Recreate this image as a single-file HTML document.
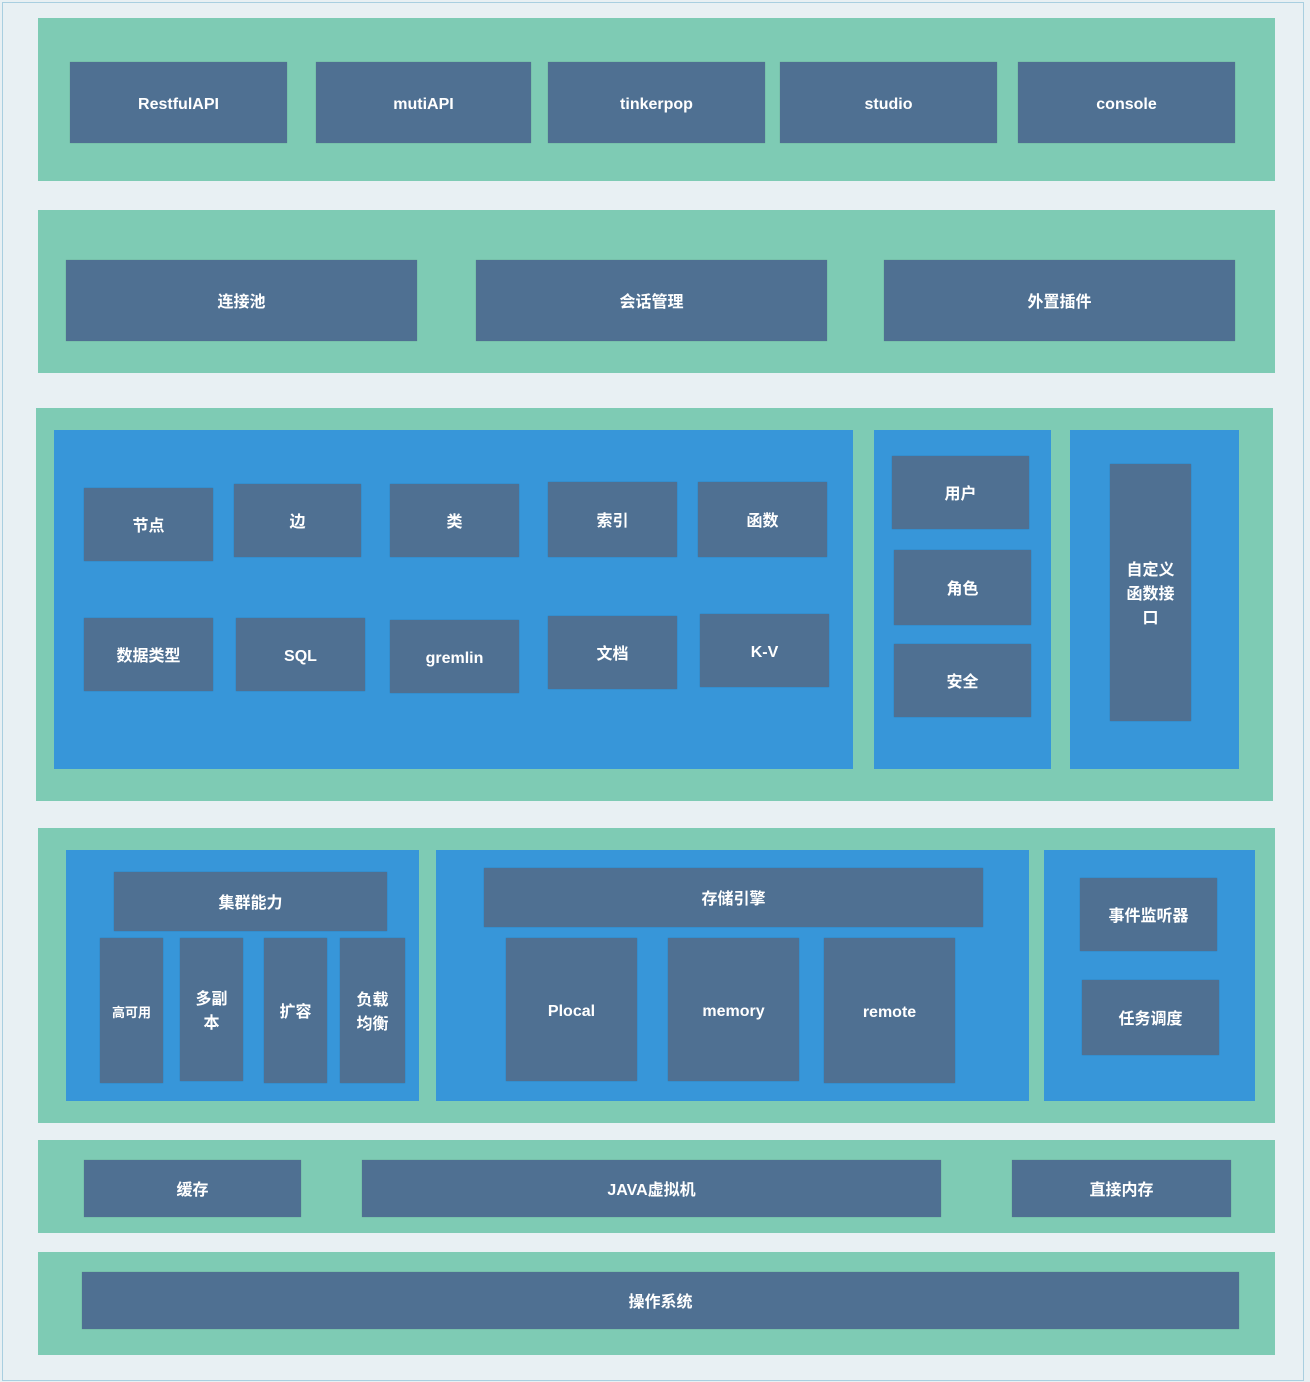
<!DOCTYPE html>
<html><head><meta charset="utf-8"><style>
html,body{margin:0;padding:0;}
body{width:1310px;height:1382px;background:#e8f0f3;position:relative;overflow:hidden;font-family:"Liberation Sans","Noto Sans CJK SC",sans-serif;}
.a{position:absolute;box-sizing:border-box;}
.g{background:#7ecbb4;}
.bl{background:#3796d9;}
.d{background:#4f7092;color:#fff;font-weight:bold;font-size:16px;display:flex;align-items:center;justify-content:center;text-align:center;line-height:24px;box-shadow:0 0 1px rgba(0,0,0,.25);padding-top:5px;}
</style></head><body>
<div class="a" style="left:2px;top:2px;width:1302px;height:1379px;border:1px solid #a9cfe0;"></div>
<div class="a g" style="left:38px;top:18px;width:1237px;height:163px"></div>
<div class="a g" style="left:38px;top:210px;width:1237px;height:163px"></div>
<div class="a g" style="left:36px;top:408px;width:1237px;height:393px"></div>
<div class="a g" style="left:38px;top:828px;width:1237px;height:295px"></div>
<div class="a g" style="left:38px;top:1140px;width:1237px;height:93px"></div>
<div class="a g" style="left:38px;top:1252px;width:1237px;height:103px"></div>

<div class="a d" style="left:70px;top:62px;width:217px;height:81px">RestfulAPI</div>
<div class="a d" style="left:316px;top:62px;width:215px;height:81px">mutiAPI</div>
<div class="a d" style="left:548px;top:62px;width:217px;height:81px">tinkerpop</div>
<div class="a d" style="left:780px;top:62px;width:217px;height:81px">studio</div>
<div class="a d" style="left:1018px;top:62px;width:217px;height:81px">console</div>

<div class="a d" style="left:66px;top:260px;width:351px;height:81px">连接池</div>
<div class="a d" style="left:476px;top:260px;width:351px;height:81px">会话管理</div>
<div class="a d" style="left:884px;top:260px;width:351px;height:81px">外置插件</div>

<div class="a bl" style="left:54px;top:430px;width:799px;height:339px"></div>
<div class="a bl" style="left:874px;top:430px;width:177px;height:339px"></div>
<div class="a bl" style="left:1070px;top:430px;width:169px;height:339px"></div>
<div class="a d" style="left:84px;top:488px;width:129px;height:73px">节点</div>
<div class="a d" style="left:234px;top:484px;width:127px;height:73px">边</div>
<div class="a d" style="left:390px;top:484px;width:129px;height:73px">类</div>
<div class="a d" style="left:548px;top:482px;width:129px;height:75px">索引</div>
<div class="a d" style="left:698px;top:482px;width:129px;height:75px">函数</div>
<div class="a d" style="left:84px;top:618px;width:129px;height:73px">数据类型</div>
<div class="a d" style="left:236px;top:618px;width:129px;height:73px">SQL</div>
<div class="a d" style="left:390px;top:620px;width:129px;height:73px">gremlin</div>
<div class="a d" style="left:548px;top:616px;width:129px;height:73px">文档</div>
<div class="a d" style="left:700px;top:614px;width:129px;height:73px">K-V</div>
<div class="a d" style="left:892px;top:456px;width:137px;height:73px">用户</div>
<div class="a d" style="left:894px;top:550px;width:137px;height:75px">角色</div>
<div class="a d" style="left:894px;top:644px;width:137px;height:73px">安全</div>
<div class="a d" style="left:1110px;top:464px;width:81px;height:257px">自定义<br>函数接<br>口</div>

<div class="a bl" style="left:66px;top:850px;width:353px;height:251px"></div>
<div class="a bl" style="left:436px;top:850px;width:593px;height:251px"></div>
<div class="a bl" style="left:1044px;top:850px;width:211px;height:251px"></div>
<div class="a d" style="left:114px;top:872px;width:273px;height:59px">集群能力</div>
<div class="a d" style="left:100px;top:938px;width:63px;height:145px;font-size:13px">高可用</div>
<div class="a d" style="left:180px;top:938px;width:63px;height:143px">多副<br>本</div>
<div class="a d" style="left:264px;top:938px;width:63px;height:145px">扩容</div>
<div class="a d" style="left:340px;top:938px;width:65px;height:145px">负载<br>均衡</div>
<div class="a d" style="left:484px;top:868px;width:499px;height:59px">存储引擎</div>
<div class="a d" style="left:506px;top:938px;width:131px;height:143px">Plocal</div>
<div class="a d" style="left:668px;top:938px;width:131px;height:143px">memory</div>
<div class="a d" style="left:824px;top:938px;width:131px;height:145px">remote</div>
<div class="a d" style="left:1080px;top:878px;width:137px;height:73px">事件监听器</div>
<div class="a d" style="left:1082px;top:980px;width:137px;height:75px">任务调度</div>

<div class="a d" style="left:84px;top:1160px;width:217px;height:57px">缓存</div>
<div class="a d" style="left:362px;top:1160px;width:579px;height:57px">JAVA虚拟机</div>
<div class="a d" style="left:1012px;top:1160px;width:219px;height:57px">直接内存</div>
<div class="a d" style="left:82px;top:1272px;width:1157px;height:57px">操作系统</div>
</body></html>
